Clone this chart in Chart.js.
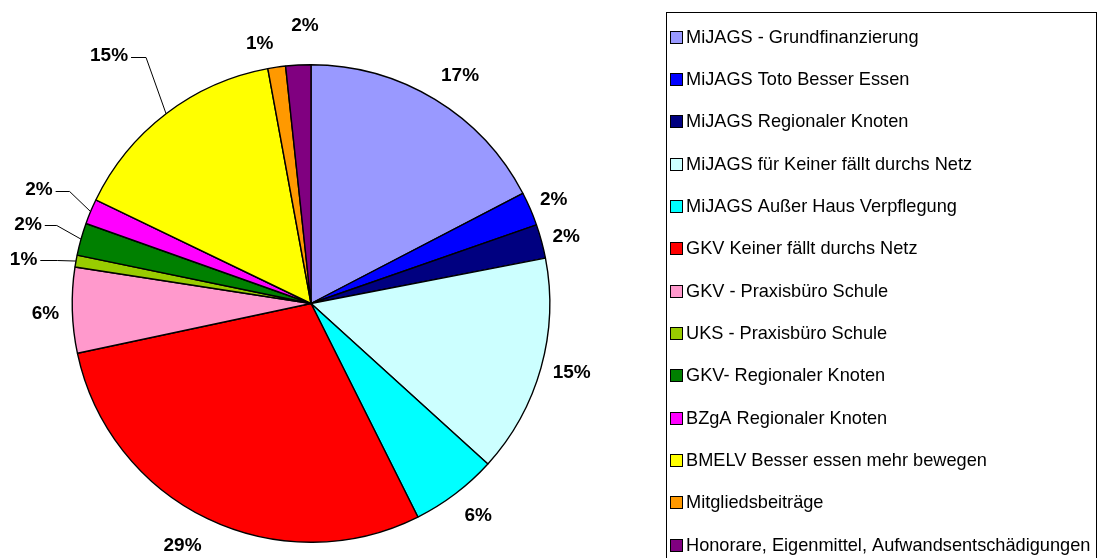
<!DOCTYPE html>
<html>
<head>
<meta charset="utf-8">
<script src="https://cdn.jsdelivr.net/npm/chart.js@4.4.0/dist/chart.umd.min.js"></script>
<style>
  html, body { margin: 0; padding: 0; background: #fff; }
  #wrap { position: relative; width: 1097px; height: 558px; }
</style>
</head>
<body>
<div id="wrap"><canvas id="pie"></canvas></div>
<script>
// ---- data ----
const CATEGORIES = [
  'MiJAGS - Grundfinanzierung',
  'MiJAGS Toto Besser Essen',
  'MiJAGS Regionaler Knoten',
  'MiJAGS für Keiner fällt durchs Netz',
  'MiJAGS Außer Haus Verpflegung',
  'GKV Keiner fällt durchs Netz',
  'GKV - Praxisbüro Schule',
  'UKS - Praxisbüro Schule',
  'GKV- Regionaler Knoten',
  'BZgA Regionaler Knoten',
  'BMELV Besser essen mehr bewegen',
  'Mitgliedsbeiträge',
  'Honorare, Eigenmittel, Aufwandsentschädigungen'
];
const SHARES = [17.4, 2.3, 2.3, 14.8, 5.9, 29.1, 5.8, 0.8, 2.2, 1.7, 15.0, 1.2, 1.7];
const COLORS = [
  '#9999ff', '#0000ff', '#000080', '#ccffff', '#00ffff', '#ff0000', '#ff99cc',
  '#99cc00', '#008000', '#ff00ff', '#ffff00', '#ff9900', '#800080'
];

// label placement: extra distance outside the rim (px), small turn (deg), leader elbow (px, 0 = none)
const LABEL_GAP  = [33, 25, 25, 31, 31, 35, 27, 52, 55, 56, 81, 26, 39];
const LABEL_TURN = [2, 0.3, 0.4, -0.7, -1.1, 2.3, -0.6, -1.5, 0, 0, -1.8, -2.9, 1.8];
const LEADER     = [0, 0, 0, 0, 0, 0, 0, 17, 12, 14, 15, 0, 0];

const labelFont  = 'bold 19px "Liberation Sans", Arial, sans-serif';
const legendFont = '18.2px "Liberation Sans", Arial, sans-serif';

const pieLabels = {
  id: 'pieLabels',
  afterDatasetsDraw(chart) {
    const ctx = chart.ctx;
    const meta = chart.getDatasetMeta(0);
    const total = SHARES.reduce((a, b) => a + b, 0);
    ctx.save();
    ctx.font = labelFont;
    ctx.fillStyle = '#000';
    ctx.textAlign = 'center';
    ctx.textBaseline = 'middle';
    meta.data.forEach((arc, i) => {
      const p = arc.getProps(['x', 'y', 'startAngle', 'endAngle', 'outerRadius'], true);
      const mid = (p.startAngle + p.endAngle) / 2;
      const a = mid + LABEL_TURN[i] * Math.PI / 180;
      const d = p.outerRadius + LABEL_GAP[i];
      const lx = p.x + d * Math.cos(a);
      const ly = p.y + d * Math.sin(a);
      const txt = Math.round(SHARES[i] / total * 100) + '%';
      ctx.fillText(txt, lx, ly);

      if (LEADER[i]) {
        const right = lx + ctx.measureText(txt).width / 2;
        ctx.beginPath();
        ctx.strokeStyle = '#000';
        ctx.lineWidth = 1;
        ctx.moveTo(right + 3, Math.round(ly) + 1.5);
        ctx.lineTo(right + 3 + LEADER[i], Math.round(ly) + 1.5);
        ctx.lineTo(p.x + p.outerRadius * Math.cos(mid), p.y + p.outerRadius * Math.sin(mid));
        ctx.stroke();
      }
    });
    ctx.restore();
  }
};

// legend box on the right, drawn by hand so the spacing matches
const boxLegend = {
  id: 'boxLegend',
  afterDraw(chart) {
    const ctx = chart.ctx;
    const ds = chart.data.datasets[0];
    ctx.save();
    ctx.strokeStyle = '#000';
    ctx.lineWidth = 1;
    ctx.strokeRect(666.5, 12.5, 430, 560);
    ctx.font = legendFont;
    ctx.textBaseline = 'middle';
    ctx.textAlign = 'left';
    chart.data.labels.forEach((lab, i) => {
      const y = Math.round(36.5 + i * 42.35);
      ctx.fillStyle = ds.backgroundColor[i];
      ctx.fillRect(670, y - 6, 13, 13);
      ctx.strokeRect(670.5, y - 5.5, 12, 12);
      ctx.fillStyle = '#000';
      ctx.fillText(lab, 686, y + 1);
    });
    ctx.restore();
  }
};

new Chart(document.getElementById('pie'), {
  type: 'pie',
  data: {
    labels: CATEGORIES,
    datasets: [{
      data: SHARES,
      backgroundColor: COLORS,
      borderColor: '#000',
      borderWidth: 1.4,
      hoverBorderWidth: 1.4,
      hoverOffset: 0
    }]
  },
  options: {
    responsive: true, maintainAspectRatio: false,
    animation: false,
    devicePixelRatio: 1,
    layout: { padding: { left: 0, right: 475, top: 64, bottom: 15 } },
    plugins: { legend: { display: false }, tooltip: { enabled: false } }
  },
  plugins: [pieLabels, boxLegend]
});
</script>
</body>
</html>
